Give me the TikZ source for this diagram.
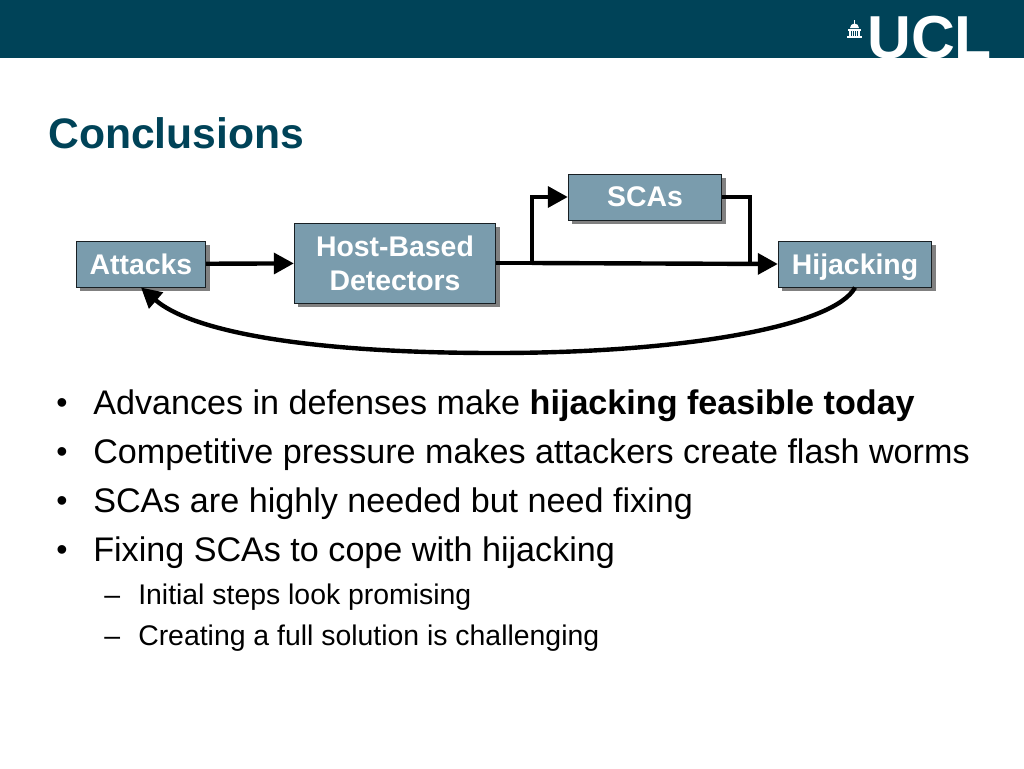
\documentclass[tikz,border=0pt]{standalone}
\usepackage{fontspec}
\setmainfont{Liberation Sans}
\usetikzlibrary{arrows.meta,shadows}
\definecolor{uclteal}{HTML}{004358}
\definecolor{boxteal}{HTML}{7A9CAD}
\tikzset{
    block/.style = {draw=black!80!boxteal, line width=0.75pt, fill=boxteal, text=white, inner sep=0pt, align=center,
        font=\fontsize{21.3}{25.5}\selectfont\bfseries,
        drop shadow={shadow xshift=3pt, shadow yshift=-3pt, fill=black!50, opacity=1}},
    flow/.style = {black, line width=3.3pt, -{Triangle[length=15pt,width=15.5pt]}},
    flowplain/.style = {black, line width=3.3pt},
    bigline/.style = {inner sep=0pt, anchor=base west, font=\fontsize{25.6}{30}\selectfont},
    smallline/.style = {inner sep=0pt, anchor=base west, font=\fontsize{21.3}{25}\selectfont},
    dotline/.style = {inner sep=0pt, anchor=base west, font=\fontsize{24}{28}\selectfont}
}
\begin{document}
\begin{tikzpicture}[x=0.75pt, y=-0.75pt]
    \useasboundingbox (0,0) rectangle (1024,768);
    % banner and logo
    \fill[uclteal] (0,0) rectangle (1024,58);
    \node[inner sep=0pt, anchor=base west, text=white, font=\fontsize{45.5}{50}\selectfont\bfseries] (logo) at (867,58) {UCL};
    \fill[white] (847,36) rectangle (862,38);
    \fill[white] (849,31) rectangle (860,36);
    \fill[white] (848,28.5) rectangle (861,30.5);
    \fill[white] (850,28) arc (180:360:4.5);
    \fill[white] (854,20) rectangle (855,24);
    \draw[uclteal, line width=0.5pt] (851.2,31) -- (851.2,36) (853.4,31) -- (853.4,36) (855.6,31) -- (855.6,36) (857.8,31) -- (857.8,36);
    \node[inner sep=0pt, anchor=base west, text=uclteal, font=\fontsize{32}{38}\selectfont\bfseries] (title) at (48,148) {Conclusions};
    % boxes
    \node[block, minimum width=97pt, minimum height=34.5pt] (attacks) at (141,264) {Attacks};
    \node[block, minimum width=151pt, minimum height=60pt] (host) at (395,263) {Host-Based\\Detectors};
    \node[block, minimum width=115pt, minimum height=34.5pt] (scas) at (645,197) {SCAs};
    \node[block, minimum width=115pt, minimum height=34.5pt, text depth=0pt] (hijack) at (855,264) {Hijacking};
    % arrows
    \coordinate (split) at (532,263);
    \coordinate (merge) at (750,264);
    \coordinate (bottom) at (495,353);
    \draw[flow] (attacks) -- (host);
    \draw[flowplain] (host.east |- split) -- (split);
    \draw[flow] (split) -- (merge -| hijack.west);
    \draw[flow] (split) |- (scas);
    \draw[flowplain] (scas) -| (merge);
    \draw[flow] (hijack.south) .. controls (835,325) and (690,353) .. (bottom) .. controls (300,353) and (190,330) .. (attacks.south);
    % text
    \node[bigline] (b1) at (93,414) {Advances in defenses make \textbf{hijacking feasible today}};
    \node[bigline] (b2) at (93,463) {Competitive pressure makes attackers create flash worms};
    \node[bigline] (b3) at (93,512) {SCAs are highly needed but need fixing};
    \node[bigline] (b4) at (93,561) {Fixing SCAs to cope with hijacking};
    \node[dotline] at (56,413) {•};
    \node[dotline] at (56,462) {•};
    \node[dotline] at (56,511) {•};
    \node[dotline] at (56,560) {•};
    \node[smallline] (s1) at (138,604) {Initial steps look promising};
    \node[smallline] (s2) at (138,645) {Creating a full solution is challenging};
    \node[smallline] at (104,604) {–};
    \node[smallline] at (104,645) {–};
\end{tikzpicture}
\end{document}
